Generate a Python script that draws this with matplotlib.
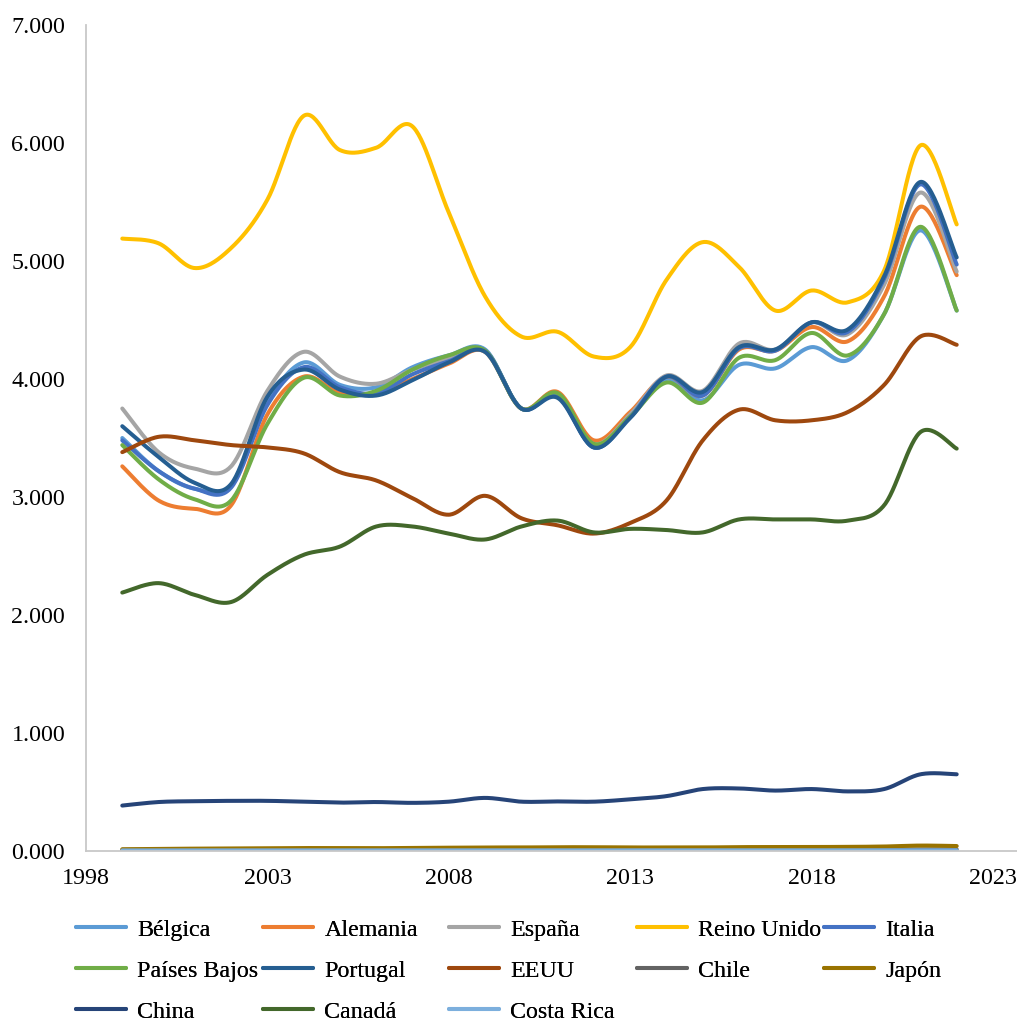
import numpy as np
import matplotlib
matplotlib.use("Agg")
import matplotlib.pyplot as plt
from matplotlib.ticker import FixedLocator, FuncFormatter

plt.rcParams['font.family'] = ['Liberation Serif', 'DejaVu Serif']

years = list(range(1999, 2023))

belgica = [3.50, 3.22, 3.07, 3.10, 3.80, 4.14, 3.95, 3.93, 4.10, 4.20, 4.25, 3.75,
           3.86, 3.42, 3.68, 4.00, 3.82, 4.12, 4.09, 4.27, 4.16, 4.55, 5.26, 4.58]
alemania = [3.26, 2.97, 2.90, 2.93, 3.70, 4.02, 3.88, 3.88, 4.00, 4.13, 4.23, 3.75,
            3.89, 3.48, 3.72, 4.02, 3.86, 4.25, 4.24, 4.44, 4.32, 4.70, 5.46, 4.88]
espana = [3.75, 3.38, 3.24, 3.26, 3.90, 4.23, 4.02, 3.96, 4.08, 4.17, 4.23, 3.75,
          3.86, 3.45, 3.70, 4.03, 3.90, 4.30, 4.25, 4.48, 4.38, 4.80, 5.58, 4.91]
reino_unido = [5.19, 5.15, 4.94, 5.11, 5.52, 6.23, 5.94, 5.96, 6.14, 5.41, 4.70, 4.36,
               4.40, 4.19, 4.27, 4.84, 5.16, 4.95, 4.58, 4.75, 4.65, 4.92, 5.98, 5.31]
italia = [3.48, 3.22, 3.07, 3.08, 3.78, 4.10, 3.93, 3.88, 4.04, 4.15, 4.24, 3.75,
          3.85, 3.42, 3.68, 4.02, 3.86, 4.26, 4.24, 4.48, 4.40, 4.85, 5.65, 4.97]
paises_bajos = [3.44, 3.15, 2.98, 2.97, 3.62, 4.01, 3.86, 3.90, 4.08, 4.20, 4.24, 3.75,
                3.88, 3.45, 3.68, 3.97, 3.80, 4.18, 4.16, 4.39, 4.20, 4.55, 5.29, 4.58]
portugal = [3.60, 3.34, 3.12, 3.11, 3.85, 4.08, 3.91, 3.86, 3.99, 4.14, 4.23, 3.75,
            3.84, 3.42, 3.67, 4.02, 3.89, 4.27, 4.25, 4.48, 4.42, 4.87, 5.67, 5.03]
eeuu = [3.38, 3.51, 3.48, 3.44, 3.42, 3.37, 3.21, 3.14, 2.99, 2.85, 3.01, 2.82,
        2.76, 2.69, 2.78, 2.97, 3.48, 3.74, 3.65, 3.65, 3.72, 3.95, 4.36, 4.29]
chile = [0.010, 0.010, 0.010, 0.010, 0.010, 0.010, 0.010, 0.010, 0.010, 0.010, 0.012, 0.012,
         0.012, 0.012, 0.012, 0.012, 0.012, 0.012, 0.012, 0.012, 0.012, 0.012, 0.014, 0.014]
japon = [0.015, 0.018, 0.020, 0.022, 0.024, 0.025, 0.025, 0.024, 0.026, 0.028, 0.030, 0.030,
         0.032, 0.032, 0.030, 0.030, 0.030, 0.033, 0.033, 0.034, 0.035, 0.038, 0.046, 0.042]
china = [0.385, 0.415, 0.422, 0.425, 0.425, 0.418, 0.410, 0.415, 0.408, 0.418, 0.450, 0.418,
         0.420, 0.418, 0.438, 0.465, 0.525, 0.530, 0.512, 0.525, 0.505, 0.525, 0.650, 0.650]
canada = [2.19, 2.27, 2.17, 2.11, 2.34, 2.51, 2.58, 2.75, 2.75, 2.69, 2.64, 2.75,
          2.80, 2.70, 2.73, 2.72, 2.70, 2.81, 2.81, 2.81, 2.80, 2.93, 3.55, 3.41]
costa_rica = [0.005, 0.005, 0.005, 0.005, 0.005, 0.005, 0.005, 0.005, 0.005, 0.005, 0.005, 0.005,
              0.005, 0.005, 0.005, 0.005, 0.005, 0.005, 0.005, 0.005, 0.005, 0.005, 0.006, 0.006]

series = [
    ("Bélgica", belgica, "#5B9BD5"),
    ("Alemania", alemania, "#ED7D31"),
    ("España", espana, "#A5A5A5"),
    ("Reino Unido", reino_unido, "#FFC000"),
    ("Italia", italia, "#4472C4"),
    ("Países Bajos", paises_bajos, "#70AD47"),
    ("Portugal", portugal, "#255E91"),
    ("EEUU", eeuu, "#9E480E"),
    ("Chile", chile, "#636363"),
    ("Japón", japon, "#997300"),
    ("China", china, "#264478"),
    ("Canadá", canada, "#43682B"),
    ("Costa Rica", costa_rica, "#7CAFDD"),
]

FS = 17.3


def smooth_curve(x, y, steps=30):
    """Cubic Bezier path through the points (spreadsheet-style smoothed line)."""
    x = np.asarray(x, float)
    y = np.asarray(y, float)
    n = len(x)
    px, py = [], []
    for i in range(n - 1):
        x0, y0 = x[max(i - 1, 0)], y[max(i - 1, 0)]
        x1, y1 = x[i], y[i]
        x2, y2 = x[i + 1], y[i + 1]
        x3, y3 = x[min(i + 2, n - 1)], y[min(i + 2, n - 1)]
        c1x, c1y = x1 + (x2 - x0) / 6, y1 + (y2 - y0) / 6
        c2x, c2y = x2 - (x3 - x1) / 6, y2 - (y3 - y1) / 6
        t = np.linspace(0, 1, steps, endpoint=(i == n - 2))
        a = (1 - t) ** 3
        b = 3 * (1 - t) ** 2 * t
        c = 3 * (1 - t) * t ** 2
        d = t ** 3
        px.append(a * x1 + b * c1x + c * c2x + d * x2)
        py.append(a * y1 + b * c1y + c * c2y + d * y2)
    return np.concatenate(px), np.concatenate(py)


fig = plt.figure(figsize=(10.17, 10.25), dpi=100)
ax = fig.add_axes([86 / 1017, 1 - 851 / 1025, 1 - 86 / 1017, (851 - 25) / 1025])

handles = {}
for name, vals, color in series:
    sx, sy = smooth_curve(years, vals)
    line, = ax.plot(sx, sy, color=color, lw=2.9, solid_capstyle="round",
                    solid_joinstyle="round", label=name)
    handles[name] = line

ax.set_xlim(1998, 1998 + (1017 - 86.5) / 36.26)
ax.set_ylim(0, 7)
ax.xaxis.set_major_locator(FixedLocator([1998, 2003, 2008, 2013, 2018, 2023]))
ax.yaxis.set_major_locator(FixedLocator(np.arange(0, 8, 1)))
ax.yaxis.set_major_formatter(FuncFormatter(lambda v, p: f"{v:.3f}"))
ax.xaxis.set_major_formatter(FuncFormatter(lambda v, p: f"{int(round(v))}"))
ax.tick_params(axis="both", length=0, labelsize=FS, colors="black")
ax.tick_params(axis="y", pad=15)
ax.tick_params(axis="x", pad=12)

for s in ("top", "right"):
    ax.spines[s].set_visible(False)
for s in ("left", "bottom"):
    ax.spines[s].set_color("#C8C8C8")
    ax.spines[s].set_linewidth(1.3)

# legend: five evenly spaced columns, read row by row
columns = [["Bélgica", "Países Bajos", "China"],
           ["Alemania", "Portugal", "Canadá"],
           ["España", "EEUU", "Costa Rica"],
           ["Reino Unido", "Chile"],
           ["Italia", "Japón"]]
col_x = [76, 263, 449, 637, 824]
for cx, names in zip(col_x, columns):
    leg = fig.legend([handles[n] for n in names], names, ncol=1,
                     loc="upper left", bbox_to_anchor=(cx / 1017, 1 - 919 / 1025),
                     frameon=False, fontsize=FS, handlelength=2.1,
                     handletextpad=0.45, labelspacing=0.80,
                     borderaxespad=0, borderpad=0)
    fig.add_artist(leg)

fig.savefig("out.png", dpi=100)
